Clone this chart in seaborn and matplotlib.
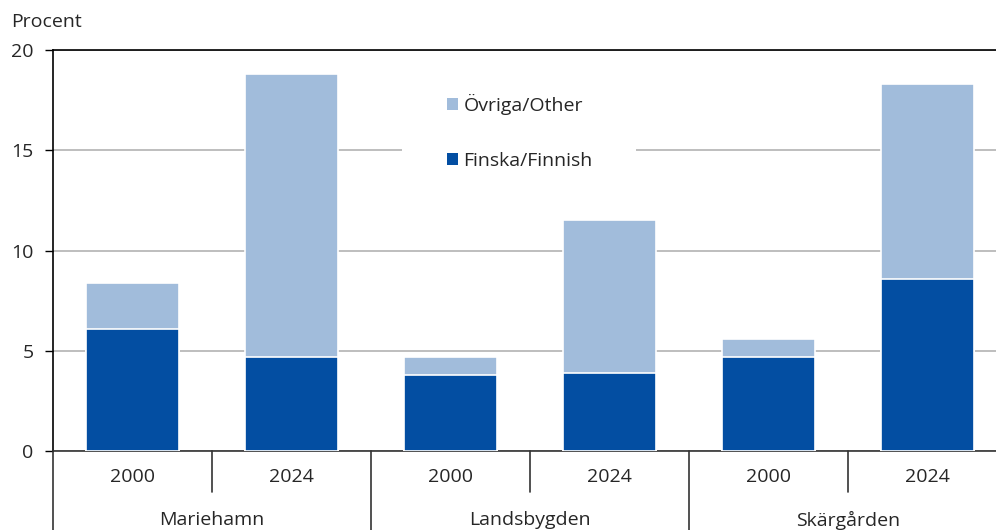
import matplotlib
matplotlib.use("Agg")
import matplotlib.pyplot as plt
import seaborn as sns
import pandas as pd
from matplotlib.lines import Line2D
from matplotlib.patches import Patch, Rectangle

groups = ["Mariehamn", "Landsbygden", "Skärgården"]
years = ["2000", "2024"]
finska = [6.1, 4.7, 3.8, 3.9, 4.7, 8.6]
ovriga = [2.3, 14.1, 0.9, 7.6, 0.9, 9.7]
yticks = [0, 5, 10, 15, 20]

keys = [f"{g} {y}" for g in groups for y in years]
df = pd.DataFrame({
    "key": keys,
    "finska": finska,
    "total": [f + o for f, o in zip(finska, ovriga)],
})

sns.set_theme(style="white")
plt.rcParams["font.family"] = ["Open Sans", "DejaVu Sans"]

dark = "#034ea2"
light = "#a1bcdb"
FS = 14

fig = plt.figure(figsize=(9.96, 5.30), dpi=100)
ax = fig.add_axes([53/996, 79/530, 954/996, 401/530])

sns.barplot(data=df, x="key", y="total", order=keys, color=light, width=0.585,
            edgecolor="white", linewidth=1.2, ax=ax, saturation=1, zorder=3)
sns.barplot(data=df, x="key", y="finska", order=keys, color=dark, width=0.585,
            edgecolor="white", linewidth=1.2, ax=ax, saturation=1, zorder=3)

ax.set_xlim(-0.5, 5.5)
ax.set_ylim(0, 20)
ax.set_yticks(yticks)
ax.set_yticklabels([str(v) for v in yticks], fontsize=FS)
ax.yaxis.grid(True, color="#b3b3b3", linewidth=1.2, zorder=0)
ax.set_axisbelow(True)
ax.tick_params(axis="y", which="both", left=True, length=6, width=1, color="#000000", pad=8)
ax.set_xlabel("")
ax.set_ylabel("")

ax.set_xticks(range(6))
ax.set_xticklabels([y for g in groups for y in years], fontsize=FS)
ax.tick_params(axis="x", length=0, pad=12)

for s in ["left", "top", "bottom"]:
    ax.spines[s].set_visible(True)
    ax.spines[s].set_color("black")
    ax.spines[s].set_linewidth(1.2)
ax.spines["right"].set_visible(False)
ax.spines["bottom"].set_color("#333333")

tr = ax.get_xaxis_transform()
for xv in [0.5, 2.5, 4.5]:
    ax.add_line(Line2D([xv, xv], [0, -41/401], transform=tr, color="#333333", lw=1.2, clip_on=False))
for xv in [-0.5, 1.5, 3.5]:
    ax.add_line(Line2D([xv, xv], [0, -79/401], transform=tr, color="#333333", lw=1.2, clip_on=False))

for i, g in enumerate(groups):
    ax.text(2*i + 0.5, -69/401, g, transform=tr, ha="center", va="center", fontsize=FS)

fig.text(11/996, 1 - 22/530, "Procent", ha="left", va="center", fontsize=FS)

# white backing behind the legend (interrupts the 15 % gridline)
x0 = (402 - 53) / 159 - 0.5
x1 = (636 - 53) / 159 - 0.5
ax.add_patch(Rectangle((x0, 13.5), x1 - x0, 5, facecolor="white", edgecolor="none", zorder=1))

handles = [Patch(facecolor=light, edgecolor="none"), Patch(facecolor=dark, edgecolor="none")]
leg = ax.legend(handles, ["Övriga/Other", "Finska/Finnish"], loc="upper left",
                bbox_to_anchor=((447 - 53) / 954, 1 - (94 - 50) / 401),
                frameon=False, fontsize=FS, handlelength=0.55, handleheight=0.55,
                handletextpad=0.3, labelspacing=1.9, borderpad=0, borderaxespad=0)
leg.set_zorder(5)

fig.savefig("out.png", dpi=100)
